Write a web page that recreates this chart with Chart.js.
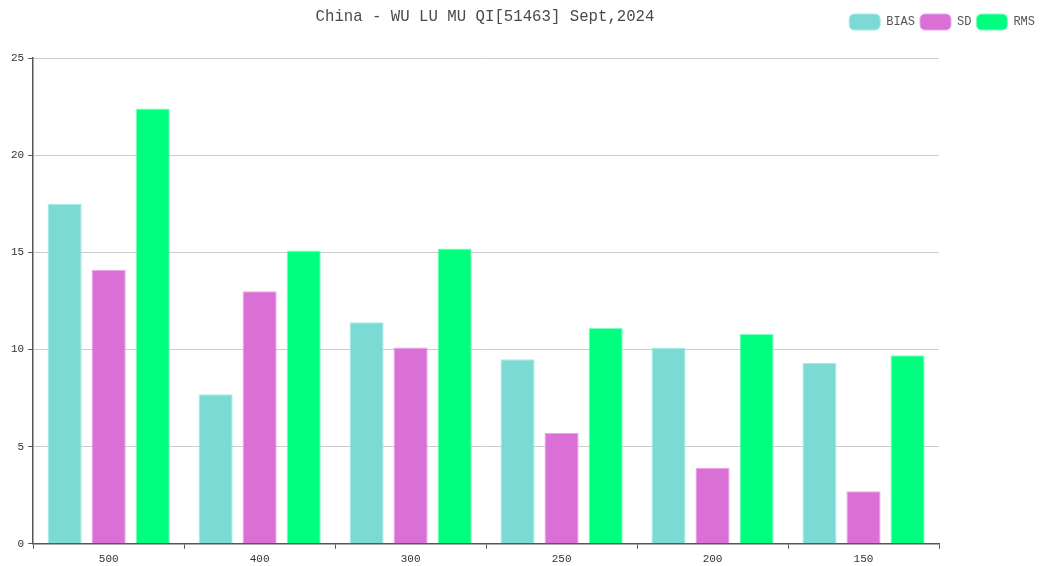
<!DOCTYPE html>
<html>
<head>
<meta charset="utf-8">
<script src="https://cdn.jsdelivr.net/npm/chart.js@4"></script>
<style>
html,body{margin:0;padding:0;background:#fff;}
#wrap{width:1050px;height:566px;position:relative;}
</style>
</head>
<body>
<div id="wrap"><canvas id="c"></canvas></div>
<script>
const titleText = "China - WU LU MU QI[51463] Sept,2024";
const categories = ["500", "400", "300", "250", "200", "150"];
const seriesNames = ["BIAS", "SD", "RMS"];
const biasValues = [17.5, 7.7, 11.4, 9.5, 10.1, 9.3];
const sdValues = [14.1, 13.0, 10.1, 5.7, 3.9, 2.7];
const rmsValues = [22.4, 15.1, 15.2, 11.1, 10.8, 9.7];
const yTicks = [0, 5, 10, 15, 20, 25];

const FONT = "'Liberation Mono', 'DejaVu Sans Mono', monospace";
const RIGHT_PAD = 110;

const layoutPlugin = {
  id: 'customLayout',
  afterInit(chart) {
    const lg = chart.legend;
    if (lg && !lg._patched) {
      const orig = lg.fit;
      lg.fit = function () { orig.call(this); this.height += 27; };
      lg._patched = true;
    }
  },
  afterLayout(chart) {
    const lg = chart.legend;
    if (lg) {
      lg.left += RIGHT_PAD - 9;
      lg.right += RIGHT_PAD - 9;
      lg.top += 9;
    }
  },
  afterDraw(chart) {
    const ctx = chart.ctx;
    ctx.save();
    ctx.font = "15.7px " + FONT;
    ctx.fillStyle = '#4a4a4a';
    ctx.textAlign = 'center';
    ctx.textBaseline = 'middle';
    ctx.fillText(titleText, 485, 17);
    ctx.restore();
  }
};

const colors = ['#7bdbd4', '#da70d6', '#00ff7f'];
const borders = ['#a8ebe6', '#eaa3e7', '#7fffbf'];
const dataArrays = [biasValues, sdValues, rmsValues];

new Chart(document.getElementById('c'), {
  type: 'bar',
  data: {
    labels: categories,
    datasets: seriesNames.map((n, i) => ({
      label: n,
      data: dataArrays[i],
      backgroundColor: colors[i],
      borderColor: borders[i],
      borderWidth: 1,
      categoryPercentage: 0.875,
      barPercentage: 0.775
    }))
  },
  options: {
    responsive: true,
    maintainAspectRatio: false,
    animation: false,
    layout: { padding: { left: 7, right: RIGHT_PAD + 1, top: 0, bottom: -4 } },
    plugins: {
      legend: {
        position: 'top',
        align: 'end',
        labels: {
          boxWidth: 31,
          boxHeight: 16,
          useBorderRadius: true,
          borderRadius: 5,
          padding: 5,
          color: '#555',
          font: { family: FONT, size: 12 }
        }
      },
      title: { display: false },
      tooltip: { enabled: false }
    },
    scales: {
      x: {
        offset: true,
        grid: {
          display: true,
          drawOnChartArea: false,
          drawTicks: true,
          tickLength: 5,
          tickColor: '#555',
          offset: true
        },
        border: { display: true, color: '#555', width: 1.5 },
        ticks: {
          color: '#333',
          font: { family: FONT, size: 11 },
          padding: 4
        }
      },
      y: {
        min: 0,
        max: 25,
        afterBuildTicks(axis) { axis.ticks = yTicks.map(v => ({ value: v })); },
        grid: {
          color: '#cccccc',
          tickColor: '#555',
          tickLength: 5,
          lineWidth: 1
        },
        border: { display: true, color: '#555', width: 1.5 },
        ticks: {
          color: '#333',
          font: { family: FONT, size: 11 },
          padding: 4
        }
      }
    }
  },
  plugins: [layoutPlugin]
});
</script>
</body>
</html>
